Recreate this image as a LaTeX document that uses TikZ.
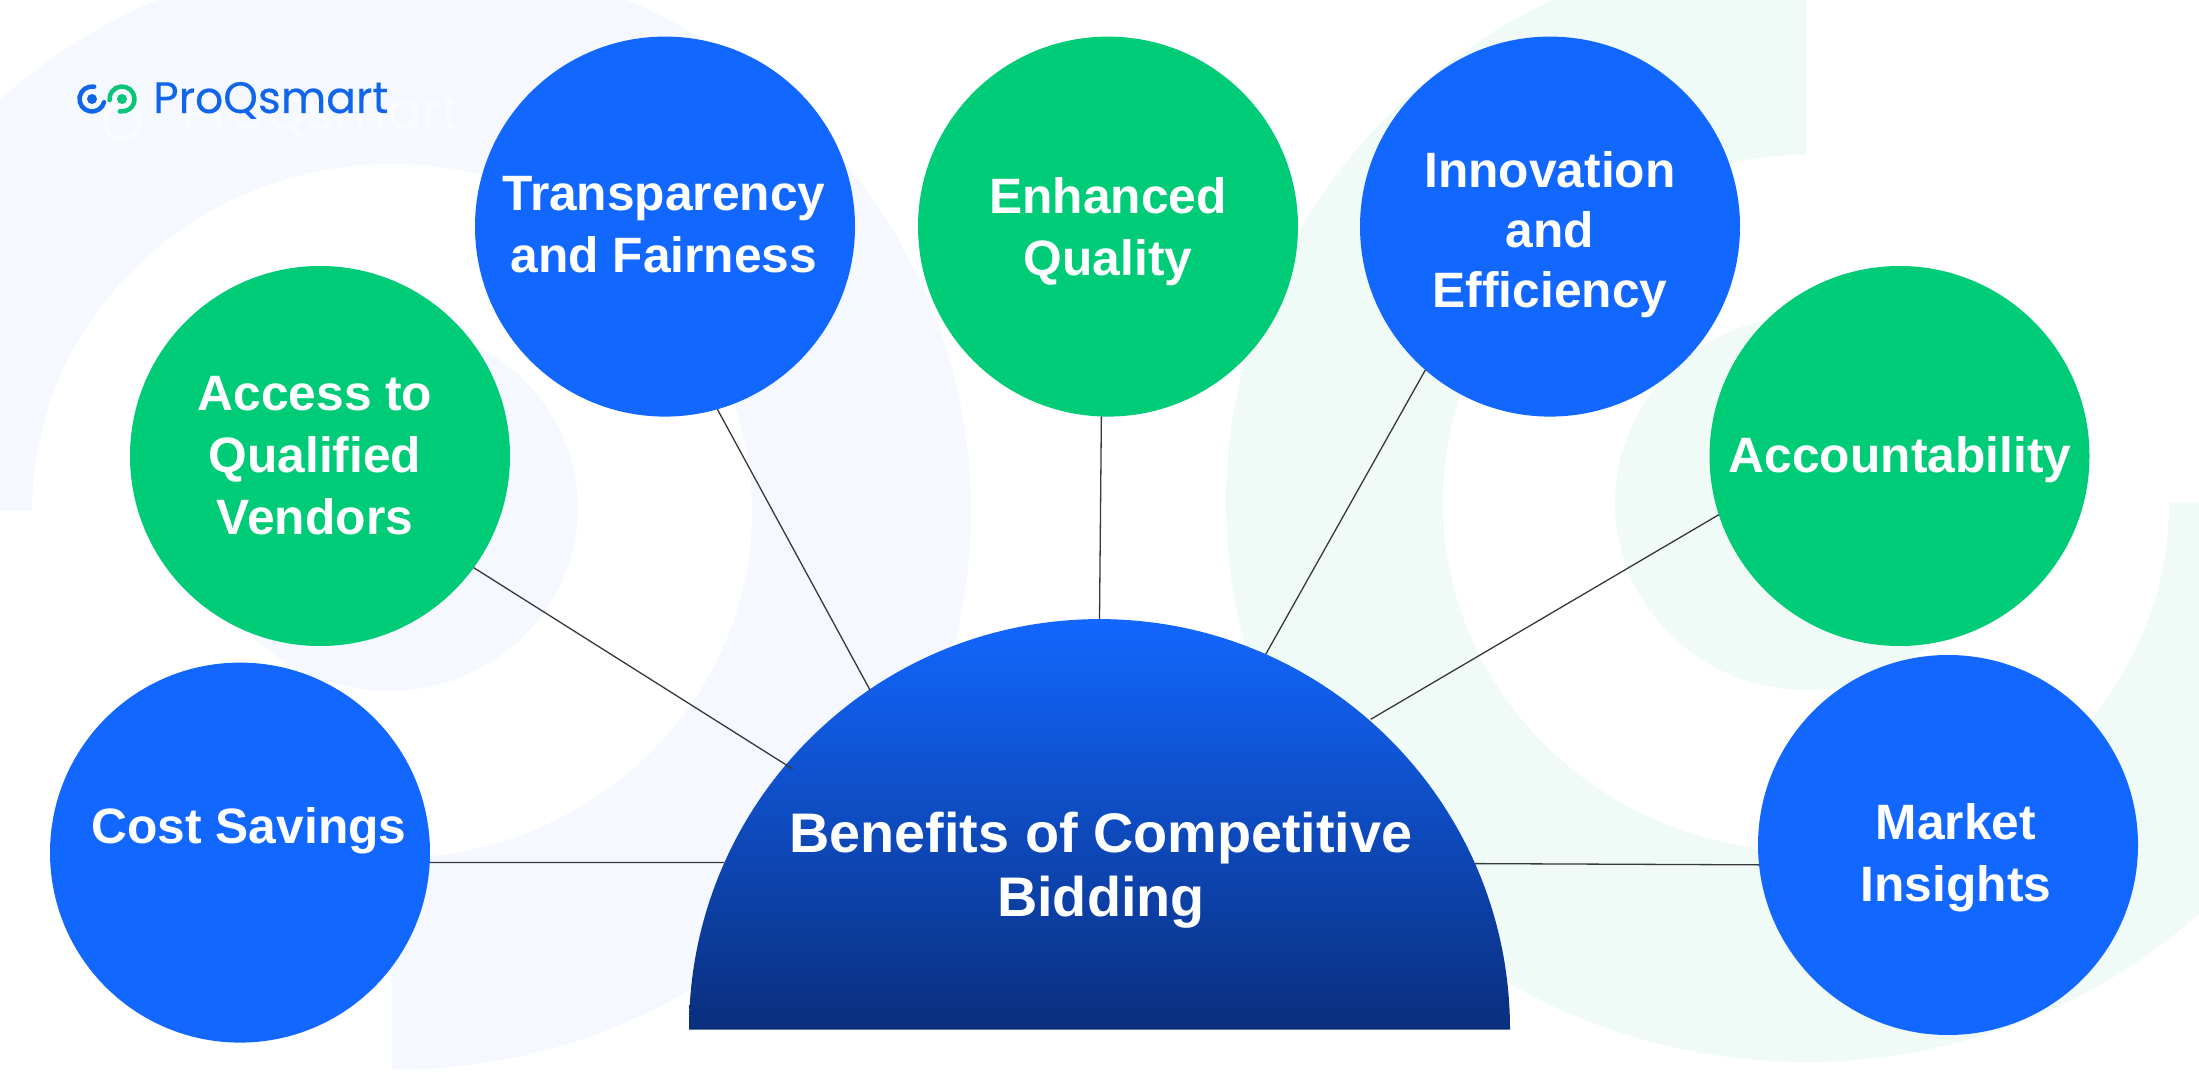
\documentclass[tikz,border=0pt]{standalone}
\usepackage{fontspec}
\setmainfont{Liberation Sans}
\newfontfamily\logofont[FakeBold=0.3]{Poppins}
\definecolor{brandblue}{RGB}{18,103,255}
\definecolor{brandgreen}{RGB}{0,204,120}
\definecolor{hubbottom}{RGB}{10,46,125}
\definecolor{palebluebg}{RGB}{245,248,254}
\definecolor{palegreenbg}{RGB}{240,251,247}
\definecolor{linkgrey}{RGB}{55,55,60}
\definecolor{logoblue}{RGB}{16,101,232}
\definecolor{logogreen}{RGB}{10,196,120}
\tikzset{
  x=1pt,y=1pt,
  bubble/.style={circle,minimum size=380pt,inner sep=0pt,outer sep=0pt},
  bluebubble/.style={bubble,fill=brandblue},
  greenbubble/.style={bubble,fill=brandgreen},
  lbl/.style={text=white,font=\fontsize{49.7}{62}\selectfont\bfseries,align=center,inner sep=0pt,anchor=base},
  lbltight/.style={lbl,font=\fontsize{49.7}{60}\selectfont\bfseries},
  hublbl/.style={text=white,font=\fontsize{55.8}{64}\selectfont\bfseries,align=center,inner sep=0pt,anchor=base},
  link/.style={draw=linkgrey,line width=1.3pt},
  logoarc/.style={line width=4.5pt,line cap=round},
}
\begin{document}
\begin{tikzpicture}
\useasboundingbox (0,0) rectangle (2199,1080);
\begin{scope}
\clip (0,0) rectangle (2199,1080);
% background rings
\fill[palebluebg] (32,569) arc[start angle=180,end angle=-90,x radius=360,y radius=347]
  -- (392,10) arc[start angle=-90,end angle=180,x radius=579,y radius=559] -- cycle;
\fill[palebluebg] (388,572) ellipse[x radius=190,y radius=183];
\fill[palegreenbg] (1806,925) arc[start angle=90,end angle=360,x radius=363,y radius=348]
  -- (2386,577) arc[start angle=0,end angle=-270,x radius=580,y radius=559] -- cycle;
\fill[palegreenbg] (1806,577) ellipse[x radius=191,y radius=187];
\end{scope}
% faint logo echo
\node[anchor=base west,inner sep=0pt,text=white,text opacity=0.55,font=\logofont\fontsize{52}{52}\selectfont] (ghost) at (182,951) {ProQsmart};
\draw[white,opacity=0.55,line width=5pt] (122,958) circle[radius=17];
% bubbles
\node[bluebubble] (cost) at (240,227.4) {};
\node[greenbubble] (access) at (320,624) {};
\node[bluebubble] (transp) at (665,853.4) {};
\node[greenbubble] (quality) at (1108,853.4) {};
\node[bluebubble] (innov) at (1550,853.4) {};
\node[greenbubble] (account) at (1899.5,624) {};
\node[bluebubble] (market) at (1948,235) {};
% hub
\shade[top color=brandblue,bottom color=hubbottom] (689,50.4) arc[start angle=180,end angle=0,radius=410.5] -- cycle;
\coordinate (hubA) at (724,217.5);
\coordinate (hubB) at (792.7,311);
\coordinate (hubC) at (870,390);
\coordinate (hubD) at (1099.5,461);
\coordinate (hubE) at (1265.7,425.7);
\coordinate (hubF) at (1370.7,360.7);
\coordinate (hubG) at (1475,216.4);
% connectors
\draw[link] (cost.-3) -- (hubA);
\draw[link] (access.-36.4) -- (hubB);
\draw[link] (transp.-74.2) -- (hubC);
\draw[link] (quality.-92.6) -- (hubD);
\draw[link] (innov.-131.2) -- (hubE);
\draw[link] (account.-162.1) -- (hubF);
\draw[link] (market.-174) -- (hubG);
% labels
\node[lbl] (costL) at (249,236.4) {Cost Savings};
\node[lbl] (accessL) at (315,545) {Access to\\Qualified\\Vendors};
\node[lbl] (transpL) at (664,807) {Transparency\\and Fairness};
\node[lbl] (qualityL) at (1108,804.5) {Enhanced\\Quality};
\node[lbltight] (innovL) at (1550,772) {Innovation\\and\\Efficiency};
\node[lbl] (accountL) at (1900,607.5) {Accountability};
\node[lbl] (marketL) at (1956,179) {Market\\Insights};
\node[hublbl] (hubL) at (1101,164) {Benefits of Competitive\\Bidding};
% logo
\fill[logoblue] (92,981) circle[radius=5] coordinate (dotA);
\fill[logogreen] (122,981) circle[radius=5] coordinate (dotB);
\draw[logoarc,logoblue] (92,981) ++(80:12.5) arc[start angle=80,end angle=345,radius=12.5];
\draw[logoarc,logogreen] (122,981) ++(185:12.5) arc[start angle=185,end angle=-100,radius=12.5];
\node[anchor=base west,inner sep=0pt,text=logoblue,font=\logofont\fontsize{44}{44}\selectfont] (logo) at (153,967) {ProQsmart};
\end{tikzpicture}
\end{document}
